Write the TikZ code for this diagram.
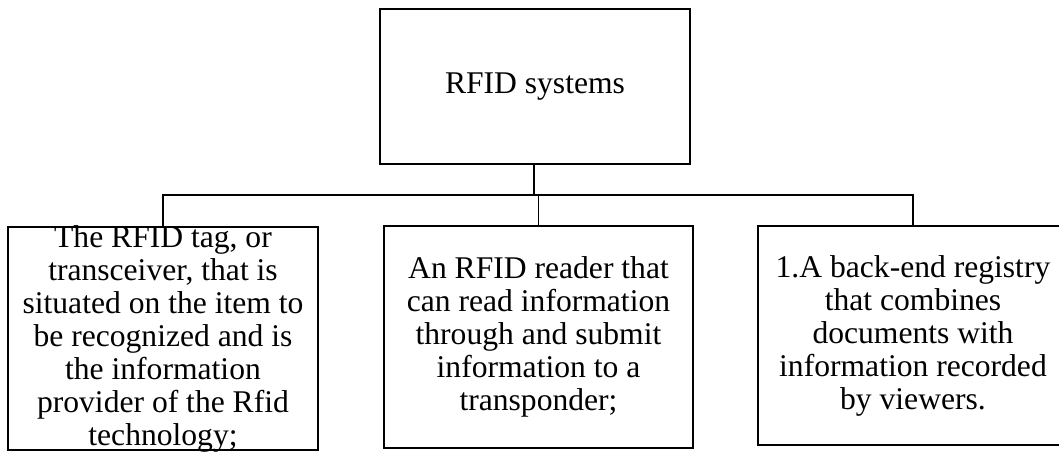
\documentclass[tikz,border=0pt]{standalone}
\usepackage{fontspec}
\setmainfont{Liberation Serif}
\begin{document}
\begin{tikzpicture}[x=0.75pt,y=-0.75pt,
  box/.style={draw=black,line width=1.1pt,rectangle,inner sep=0pt,fill=none},
  txt/.style={inner sep=0pt,align=center,font=\fontsize{23.7}{24.75}\selectfont},
  link/.style={draw=black,line width=1pt},
  stem/.style={draw=black,line width=2.2pt}]
\clip (0,0) rectangle (1059,451);
\fill[white] (0,0) rectangle (1059,451);

% boxes (sizes in pt; 1 unit = 0.75pt)
\node[box,minimum width=232.5pt,minimum height=116.25pt] (top) at (535,86.5) {};
\node[box,minimum width=232.5pt,minimum height=167.25pt] (left) at (163,338.5) {};
\node[box,minimum width=231.75pt,minimum height=166.5pt] (mid) at (538.5,337) {};
\node[box,minimum width=232.5pt,minimum height=164.25pt] (right) at (913,335.5) {};

% texts
\node[txt] (topT) at (top.center) {RFID systems};
\node[txt] (leftT) at (left.center) {The RFID tag, or\\ transceiver, that is\\ situated on the item to\\ be recognized and is\\ the information\\ provider of the Rfid\\ technology;};
\node[txt] (midT) at (mid.center) {An RFID reader that\\ can read information\\ through and submit\\ information to a\\ transponder;};
\node[txt] (rightT) at (right.center) {1.A back-end registry\\ that combines\\ documents with\\ information recorded\\ by viewers.};

% connectors
\coordinate (bus) at (534,195);
\draw[stem] (top.south -| bus) -- (bus);
\draw[link] (left.north) |- (bus) -| (right.north);
\draw[link] (mid.north) -- (mid.north |- bus);
\end{tikzpicture}
\end{document}
